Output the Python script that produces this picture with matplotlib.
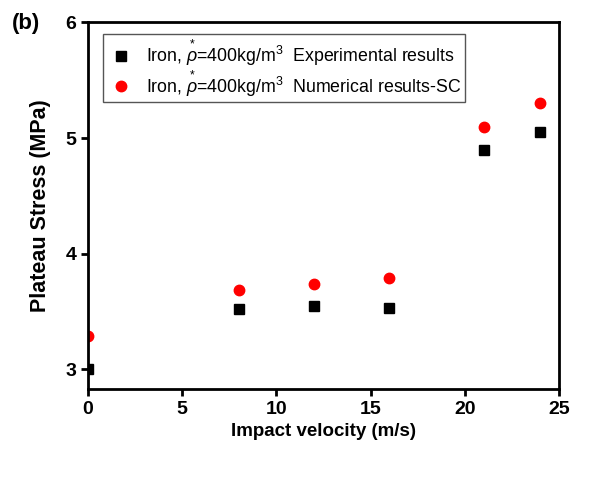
import matplotlib
matplotlib.use("Agg")
import matplotlib.pyplot as plt

velocity = [0, 8, 12, 16, 21, 24]
stress_exp = [3.0, 3.52, 3.545, 3.53, 4.90, 5.05]
stress_sc = [3.29, 3.69, 3.74, 3.79, 5.10, 5.30]

x_ticks = [0, 5, 10, 15, 20, 25]
y_ticks = [3, 4, 5, 6]

plt.rcParams['font.family'] = ['Liberation Sans', 'DejaVu Sans']
plt.rcParams['mathtext.fontset'] = 'custom'
plt.rcParams['mathtext.rm'] = 'Liberation Sans'
plt.rcParams['mathtext.it'] = 'Liberation Sans:italic'
plt.rcParams['mathtext.bf'] = 'Liberation Sans:bold'


def run():
    fig = plt.figure(figsize=(6.03, 4.78), dpi=100)
    ax = fig.add_axes([0.146, 0.186, 0.781, 0.767])

    rho = r"$\overset{*}{\rho}$"
    ax.plot(velocity, stress_exp, 's', color='black', markersize=7.5,
            label="Iron, " + rho + "=400kg/m$^3$  Experimental results")
    ax.plot(velocity, stress_sc, 'o', color='red', markersize=7.5,
            label="Iron, " + rho + "=400kg/m$^3$  Numerical results-SC")

    ax.set_xlim(0, 25)
    ax.set_ylim(2.83, 6)
    ax.set_xticks(x_ticks)
    ax.set_yticks(y_ticks)

    for side in ax.spines.values():
        side.set_linewidth(2)
    ax.tick_params(direction='out', length=5, width=2)
    for lbl in ax.get_xticklabels() + ax.get_yticklabels():
        lbl.set_fontweight('bold')
        lbl.set_fontsize(14)

    ax.set_xlabel("Impact velocity (m/s)", fontsize=13.5, fontweight='bold', labelpad=4)
    ax.set_ylabel("Plateau Stress (MPa)", fontsize=15.5, fontweight='bold', labelpad=10)

    leg = ax.legend(loc='upper left', bbox_to_anchor=(0.032, 0.968), fontsize=12.8,
                    fancybox=False, edgecolor='#555555', framealpha=1,
                    borderaxespad=0, handletextpad=0.6, borderpad=0.2,
                    labelspacing=0.0, handlelength=1.6)
    leg.get_frame().set_linewidth(1)

    fig.text(0.02, 0.95, "(b)", fontsize=16, fontweight='bold', va='center')

    fig.savefig("out.png", dpi=100)


if __name__ == '__main__':
    run()
